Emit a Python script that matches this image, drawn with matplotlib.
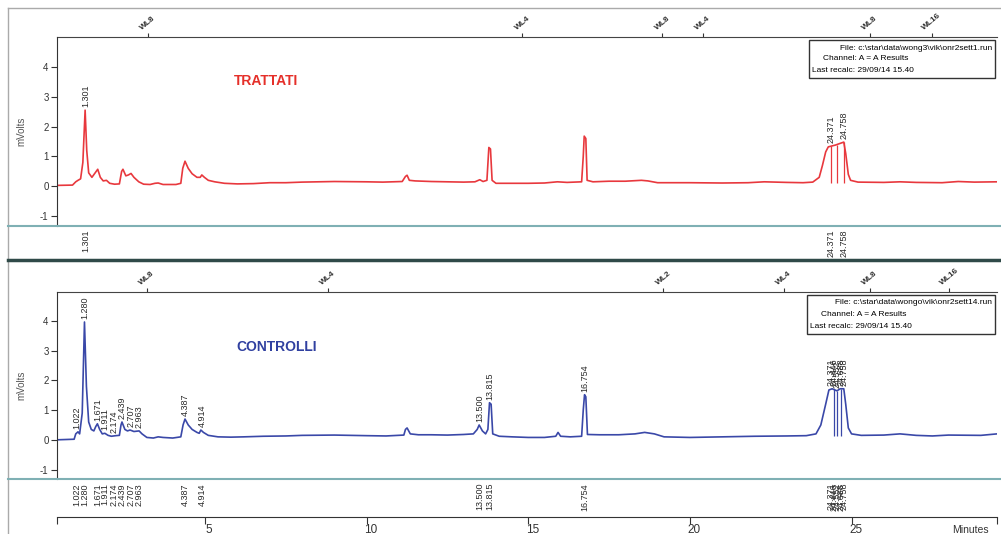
import numpy as np
import matplotlib
matplotlib.use('Agg')
import matplotlib.pyplot as plt
from matplotlib.lines import Line2D
from matplotlib.patches import Rectangle
from matplotlib.transforms import ScaledTranslation

plt.rcParams['font.family'] = ['Liberation Sans', 'DejaVu Sans']
plt.rcParams['axes.unicode_minus'] = False

# ---- data (time in minutes, signal in mVolts) ----
t_trattati = [0.42, 0.9, 1.0, 1.07, 1.15, 1.22, 1.29, 1.34, 1.40, 1.50, 1.60, 1.68, 1.76, 1.85,
              1.95, 2.05, 2.2, 2.35, 2.42, 2.46, 2.55, 2.63, 2.71, 2.8, 2.95, 3.1, 3.3, 3.45,
              3.55, 3.7, 4.1, 4.25, 4.31, 4.38, 4.48, 4.6, 4.75, 4.85, 4.9, 4.98, 5.1, 5.3,
              5.6, 6.0, 6.5, 7.0, 7.5, 8.0, 9.0, 10.0, 10.5, 11.1, 11.2, 11.25, 11.32, 11.5,
              12.0, 12.5, 13.0, 13.35, 13.5, 13.6, 13.72, 13.78, 13.83, 13.88, 14.0, 14.5,
              15.0, 15.5, 15.9, 16.2, 16.65, 16.70, 16.73, 16.78, 16.82, 17.0, 17.5, 18.0,
              18.5, 18.7, 19.0, 19.5, 20.0, 21.0, 21.8, 22.3, 23.0, 23.5, 23.8, 24.0, 24.1,
              24.2, 24.28, 24.5, 24.76, 24.82, 24.9, 24.97, 25.2, 26.0, 26.5, 27.0, 27.8,
              28.3, 28.8, 29.5]
v_trattati = [0.03, 0.04, 0.15, 0.2, 0.25, 0.8, 2.55, 1.2, 0.45, 0.3, 0.45, 0.57, 0.3, 0.18,
              0.2, 0.1, 0.07, 0.08, 0.5, 0.57, 0.35, 0.38, 0.43, 0.3, 0.15, 0.07, 0.06, 0.1,
              0.11, 0.06, 0.06, 0.1, 0.6, 0.84, 0.6, 0.42, 0.3, 0.3, 0.38, 0.3, 0.2, 0.15,
              0.1, 0.08, 0.09, 0.12, 0.12, 0.14, 0.16, 0.15, 0.14, 0.16, 0.33, 0.37, 0.2, 0.18,
              0.16, 0.15, 0.14, 0.15, 0.22, 0.16, 0.2, 1.3, 1.25, 0.2, 0.1, 0.1,
              0.1, 0.11, 0.15, 0.13, 0.15, 1.0, 1.68, 1.6, 0.2, 0.15, 0.17, 0.17,
              0.2, 0.18, 0.12, 0.12, 0.12, 0.11, 0.12, 0.15, 0.13, 0.12, 0.14, 0.3, 0.7,
              1.15, 1.32, 1.38, 1.48, 1.1, 0.4, 0.2, 0.14, 0.13, 0.15, 0.13, 0.12,
              0.16, 0.14, 0.15]

t_controlli = [0.42, 0.95, 1.0, 1.07, 1.12, 1.2, 1.27, 1.33, 1.40, 1.48, 1.56, 1.62, 1.67, 1.74,
               1.82, 1.9, 2.0, 2.1, 2.24, 2.35, 2.40, 2.43, 2.52, 2.6, 2.68, 2.8, 2.96, 3.05,
               3.2, 3.4, 3.55, 3.7, 4.0, 4.25, 4.32, 4.38, 4.48, 4.6, 4.75, 4.82, 4.87, 4.95,
               5.1, 5.4, 5.8, 6.2, 6.8, 7.5, 8.0, 9.0, 10.0, 10.6, 11.15, 11.2, 11.25, 11.35,
               11.6, 12.0, 12.5, 13.0, 13.3, 13.42, 13.48, 13.58, 13.68, 13.75, 13.8, 13.85,
               13.9, 14.1, 14.5, 15.0, 15.5, 15.85, 15.92, 16.0, 16.3, 16.65, 16.70, 16.74,
               16.78, 16.83, 17.2, 17.8, 18.3, 18.6, 18.9, 19.2, 20.0, 21.0, 22.0, 23.0, 23.6,
               23.9, 24.05, 24.2, 24.3, 24.4, 24.55, 24.65, 24.76, 24.82, 24.9, 25.0, 25.3,
               26.0, 26.5, 27.0, 27.5, 28.0, 29.0, 29.5]
v_controlli = [0.0, 0.02, 0.2, 0.27, 0.2, 0.9, 3.97, 1.8, 0.6, 0.35, 0.3, 0.45, 0.54, 0.35,
               0.2, 0.22, 0.15, 0.12, 0.14, 0.15, 0.5, 0.6, 0.35, 0.3, 0.33, 0.28, 0.3, 0.2,
               0.08, 0.06, 0.1, 0.08, 0.06, 0.1, 0.5, 0.7, 0.5, 0.35, 0.25, 0.22, 0.33, 0.25,
               0.15, 0.1, 0.09, 0.1, 0.12, 0.13, 0.15, 0.16, 0.14, 0.13, 0.16, 0.35, 0.4, 0.2,
               0.17, 0.17, 0.16, 0.18, 0.2, 0.35, 0.5, 0.3, 0.2, 0.35, 1.25, 1.2,
               0.2, 0.12, 0.1, 0.08, 0.08, 0.12, 0.25, 0.12, 0.1, 0.12, 1.0, 1.52,
               1.45, 0.18, 0.17, 0.17, 0.2, 0.25, 0.2, 0.1, 0.08, 0.1, 0.12, 0.13, 0.14,
               0.2, 0.5, 1.2, 1.68, 1.72, 1.65, 1.72, 1.72, 1.2, 0.4, 0.2, 0.15,
               0.16, 0.2, 0.15, 0.13, 0.16, 0.15, 0.2]

peaks_trattati = ['1.301', '24.371', '24.758']
peaks_controlli = ['1.022', '1.280', '1.671', '1.911', '2.174', '2.439', '2.707', '2.963',
                   '4.387', '4.914', '13.500', '13.815', '16.754',
                   '24.371', '24.446', '24.552', '24.688', '24.758']
drops_trattati = [24.371, 24.55, 24.758]
drops_controlli = [24.446, 24.552, 24.688]

wl_t_trattati = [3.24, 14.82, 19.15, 20.39, 25.56, 27.48]
wl_lab_trattati = ['WL8', 'WL4', 'WL8', 'WL4', 'WL8', 'WL16']
wl_t_controlli = [3.2, 8.81, 19.18, 22.9, 25.56, 28.03]
wl_lab_controlli = ['WL8', 'WL4', 'WL2', 'WL4', 'WL8', 'WL16']

time_ticks = [5, 10, 15, 20, 25]
y_ticks = [-1, 0, 1, 2, 3, 4]

info_trattati = ['File: c:\\star\\data\\wong3\\vik\\onr2sett1.run',
                 'Channel: A = A Results', 'Last recalc: 29/09/14 15.40']
info_controlli = ['File: c:\\star\\data\\wongo\\vik\\onr2sett14.run',
                  'Channel: A = A Results', 'Last recalc: 29/09/14 15.40']

# ---- layout ----
W, H = 1001, 534
fig = plt.figure(figsize=(W / 100, H / 100), dpi=100)


def fx(px):
    return px / W


def fy(py):
    return 1 - py / H


def panel(top, bottom, ylim, t, v, color, name, name_xy, name_color,
          peaks, drops, wl_t, wl_lab, info, box):
    ax = fig.add_axes([fx(57), fy(bottom), fx(997) - fx(57), fy(top) - fy(bottom)])
    ax.set_xlim(0.42, 29.5)
    ax.set_ylim(*ylim)
    ax.plot(t, v, color=color, lw=1.2)
    t_arr, v_arr = np.array(t), np.array(v)
    ax.vlines(drops, 0.12, np.interp(drops, t_arr, v_arr), color=color, lw=0.9)

    for s in ['right', 'top', 'bottom']:
        ax.spines[s].set_visible(False)
    ax.spines['left'].set_color('#333333')
    ax.set_yticks(y_ticks)
    ax.tick_params(axis='y', length=4, width=0.8, colors='#333333', labelsize=7, pad=2)
    ax.set_ylabel('mVolts', fontsize=7, color='#555555', labelpad=10)

    # WL marks on the top edge
    sec = ax.secondary_xaxis('top')
    sec.set_xticks(wl_t, labels=wl_lab)
    sec.spines['top'].set_color('#444444')
    sec.tick_params(length=3, width=0.8, colors='#333333', labelsize=6, pad=1)
    for lab in sec.get_xticklabels():
        lab.set_rotation(40)
        lab.set_fontweight('bold')

    # peak labels, above peaks and under the panel
    for p in peaks:
        pt = float(p)
        near = np.abs(t_arr - pt) < 0.07
        top_v = v_arr[near].max() if near.any() else np.interp(pt, t_arr, v_arr)
        ax.annotate(p, (pt, top_v), xytext=(0, 3), textcoords='offset pixels',
                    rotation=90, ha='center', va='bottom', fontsize=6.5, color='#2a2a2a')
        ax.annotate(p, (pt, 0), xycoords=('data', 'axes fraction'), xytext=(0, -4),
                    textcoords='offset pixels', rotation=90, ha='center', va='top',
                    fontsize=6.5, color='#2a2a2a', annotation_clip=False)

    fig.text(fx(name_xy[0]), fy(name_xy[1]), name, color=name_color, fontsize=10,
             fontweight='bold', ha='center', va='center')

    x0, y0, x1, y1 = box
    fig.add_artist(Rectangle((fx(x0), fy(y1)), fx(x1) - fx(x0), fy(y0) - fy(y1),
                             transform=fig.transFigure, fill=False, ec='#333333', lw=1))
    fig.text(fx(x1 - 3), fy(y0 + 8), info[0], fontsize=6, ha='right', va='center')
    fig.text(fx(x0 + 14), fy(y0 + 19), info[1], fontsize=6, ha='left', va='center')
    fig.text(fx(x0 + 3), fy(y0 + 31), info[2], fontsize=6, ha='left', va='center')
    return ax


ax1 = panel(37, 226, (-1.33, 5.0), t_trattati, v_trattati, '#e8383d', 'TRATTATI', (266, 81),
            '#e5302a', peaks_trattati, drops_trattati, wl_t_trattati, wl_lab_trattati,
            info_trattati, (809, 40, 995, 78))
ax1.set_xticks([])

ax2 = panel(292, 479, (-1.32, 4.98), t_controlli, v_controlli, '#3a48a8', 'CONTROLLI', (277, 347),
            '#3040a0', peaks_controlli, drops_controlli, wl_t_controlli, wl_lab_controlli,
            info_controlli, (807, 295, 995, 334))

# time axis under the lower panel
ax2.spines['bottom'].set_visible(True)
ax2.spines['bottom'].set_position(('outward', 38 * 0.72))
ax2.spines['bottom'].set_color('#333333')
ax2.set_xticks([0.42] + time_ticks + [29.5], labels=[''] + [str(v) for v in time_ticks] + [''])
ax2.tick_params(axis='x', length=5, width=0.8, colors='#333333', labelsize=8.5, pad=0)
for lab in ax2.get_xticklabels():
    lab.set_transform(lab.get_transform() + ScaledTranslation(4 / 100, 0, fig.dpi_scale_trans))
fig.text(fx(970), fy(525), 'Minutes', fontsize=7.5, color='#333333', ha='center', va='top')

# frame and separator lines
fig.add_artist(Line2D([fx(8), fx(1001)], [fy(7.5), fy(7.5)], color='#aaaaaa', lw=1))
fig.add_artist(Line2D([fx(8), fx(8)], [fy(7.5), fy(534)], color='#aaaaaa', lw=1))
for yy in [226, 479]:
    fig.add_artist(Line2D([fx(8), fx(1001)], [fy(yy), fy(yy)], color='#7fb0b4', lw=1.5))
fig.add_artist(Line2D([fx(8), fx(1001)], [fy(260), fy(260)], color='#2f4a48', lw=2.5))

fig.savefig('out.png', dpi=100)
